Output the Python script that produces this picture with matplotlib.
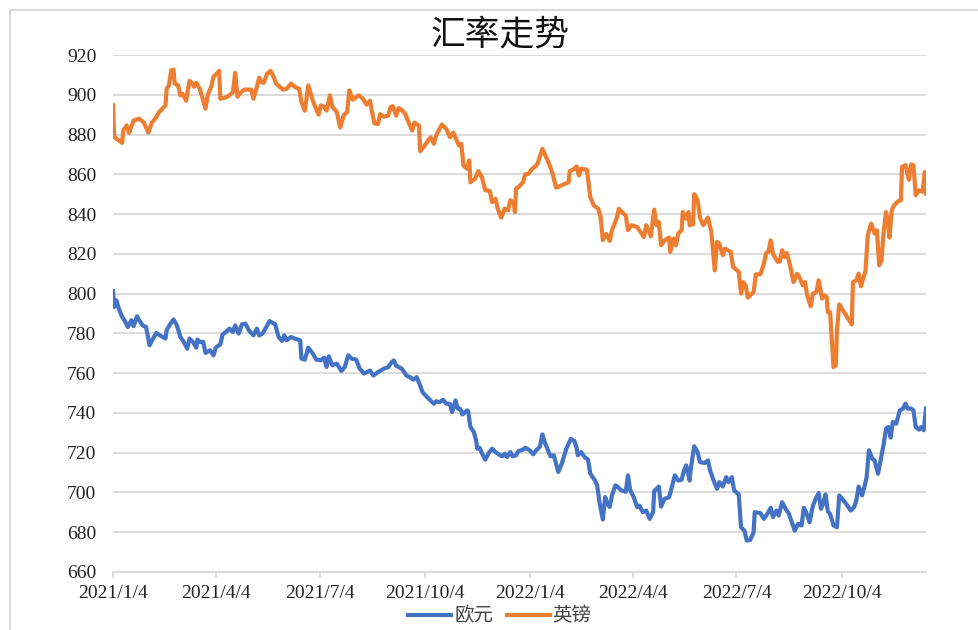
# 汇率走势图（欧元、英镑）
import matplotlib
matplotlib.use('Agg')
import matplotlib.pyplot as plt
import pandas as pd

start = pd.Timestamp('2021-01-04')

# 英镑：距 2021/1/4 的天数，及对应数值
gbp_day = [0, 1, 8, 9, 12, 14, 18, 23, 27, 31, 34, 37, 40, 46, 47, 49, 51, 53, 54, 57, 59, 61, 64, 67, 69, 71, 73, 76,
           81, 83, 86, 88, 93, 94, 98, 102, 105, 107, 109, 111, 115, 121, 123, 126, 128, 130, 132, 135, 138, 140, 143,
           146, 149, 152, 156, 159, 163, 165, 168, 171, 175, 180, 182, 185, 187, 190, 192, 196, 199, 202, 205, 207, 210,
           215, 219, 222,
           225, 227, 229, 232, 234, 237, 241, 243, 245, 248, 250, 253, 256, 259, 262, 264, 268, 269, 273, 278, 281, 283,
           288, 292, 295, 298, 301, 303, 305, 307, 310, 312, 313, 317, 320, 323, 326, 330, 332, 335, 337, 340, 343, 346,
           348, 351, 352, 353, 356, 359, 361, 364, 367, 370, 372, 376, 380, 383, 385, 388, 391, 399, 400, 404, 406, 408,
           410, 415, 418, 421, 425, 427, 429, 432, 435, 437, 441, 443, 447, 449, 451, 454, 459,
           461, 465, 467, 471, 474, 476, 478, 480, 483, 487, 488, 491, 493, 495, 498, 499, 502, 504, 505, 508, 509, 512,
           514, 517, 521, 524, 527, 529, 531, 534, 536, 541, 543, 548, 550, 552, 554, 556, 561, 563, 567, 570, 572, 574,
           576, 578, 582, 584, 586, 588, 590, 593, 596, 599, 601, 604, 606, 608, 611, 613, 616, 618, 621, 623, 625, 626,
           628, 631, 633, 634, 636, 647, 648, 651, 653, 655, 657, 659, 661, 664, 667, 669, 671, 673, 675, 677, 678, 680,
           682, 684, 688, 690, 691, 694, 697, 699, 701, 703, 706, 709, 711, 712]
gbp = [894.7, 878.8, 875.8, 882, 884.6, 880.8, 887, 888, 886, 881, 886, 888, 891, 894.7, 903, 904.7, 912.3, 912.6, 905.6,
       904.7, 899.7, 900.5, 897, 907, 906, 904, 906, 903, 893, 900, 904, 909, 912, 898, 898.5, 899.7, 901.4, 911, 899,
       900.6, 902.6, 902.6, 898, 904, 908.6, 906.4, 906, 910.6, 912, 909.8, 905.6, 904, 902.6, 903, 905.6, 904, 903,
       896.4, 892, 904.7, 897, 890, 894.7, 894, 892, 899.7, 894, 891.3, 883.5, 889.7, 891.3, 902.2, 897.5, 899.7, 898,
       895,
       897, 891, 885.6, 885.3, 890.3, 889, 889.5, 893.7, 894.3, 889.5, 893.3, 892.3, 890.3, 886, 882, 886, 884.5, 871.6,
       874.5, 878.6, 875.3, 879.5, 885, 882.8, 878.6, 881, 877, 874.5, 875.3, 864.4, 862.8, 867, 856, 857.8, 861.6,
       858.6, 852, 851.6, 846, 847.7, 842.7, 838.2, 842.7, 841.9, 847, 845.6, 841, 852.8, 854, 856, 860, 860.3, 862.8,
       864, 865.6, 872.8, 867.8, 863.6, 860.3, 853.3, 854, 856, 861.6, 862.8, 864, 859.4, 862.8, 862.3, 848.6, 844.4,
       842.7, 838.5, 826.9, 830, 826.5, 831.9, 837.7, 842.7, 840.2, 839.4, 831.9, 834.4, 833.5,
       831.8, 828.5, 834.4, 828.8, 842.2, 834.4, 836, 824.3, 826.8, 828.2, 821, 827.7, 824.3, 830.2, 831.8, 841, 837.7,
       841, 834.4, 834.9, 850, 847, 838.2, 834.4, 838.2, 831, 811.7, 826, 825.1, 819.3, 822.6, 821, 813.4, 811, 800,
       805.8, 804.2, 798, 800.8, 809.7, 809.7, 815, 820.4, 821, 826.8, 820, 816, 816.2, 821.8, 818.4, 820.4, 814.2,
       805.8, 810, 808.4, 804.2, 805.8, 799, 793.6, 800, 800.8, 806.7, 797.5, 799.1, 798.3, 790.7, 790.7, 763, 763.9,
       781.5, 794.6, 784.5, 805.8, 806.7, 810, 803.7, 807.5, 811.4, 829.3, 835.2, 830.2, 831.8, 814.2, 816.7, 831.8,
       841, 838.5, 828.2, 841.9, 844.4, 846.6, 847, 863.7, 864.6, 857.3, 865, 864.6, 849.5, 852, 851.2, 861.2, 850.3]

# 欧元
eur_day = [0, 1, 3, 5, 8, 10, 13, 16, 18, 21, 23, 26, 29, 32, 35, 38, 41, 46, 47, 50, 53, 56, 59, 62, 65, 67, 70, 73, 74,
           76, 79, 81, 85, 88, 90, 94, 96, 99, 102, 105, 107, 110, 113, 116, 119, 123, 126, 128, 131, 135, 137, 142, 145,
           148, 150, 152, 156, 159, 164, 165, 168, 171, 175, 178, 182, 185, 187, 189, 192, 196, 200, 203, 206, 209, 213,
           216, 220,
           225, 228, 232, 237, 241, 244, 246, 248, 253, 257, 260, 263, 266, 269, 271, 275, 278, 281, 283, 286, 289, 292,
           295, 297, 300, 302, 304, 306, 310, 311, 313, 316, 318, 319, 321, 324, 326, 329, 332, 335, 339, 341, 343, 345,
           348, 350, 353, 355, 359, 361, 365, 368, 370, 374, 376, 378, 381, 383, 386, 390, 393, 397, 401, 404, 406, 407,
           410, 413, 416, 418, 422, 424, 426, 429, 431, 433, 435, 437, 440, 442, 445, 449, 451, 453, 456, 459,
           461, 464, 467, 470, 473, 474, 478, 480, 483, 487, 489, 492, 495, 498, 500, 502, 505, 506, 509, 512, 514, 518,
           521, 523, 526, 529, 531, 534, 537, 539, 542, 544, 548, 550, 553, 555, 558, 561, 562, 567, 570, 573, 576, 578,
           581, 583, 586, 589, 592, 594, 597, 600, 603, 605, 607, 610, 613, 616, 618, 620, 622, 624, 626, 628, 631, 634,
           636, 641, 646, 649, 651, 653, 656, 658, 660, 662, 665, 667, 670, 672, 675, 677, 679, 681, 683, 686, 689, 692,
           694, 696, 699, 701, 703, 706, 708, 710, 712]
eur = [801.3, 793.3, 796.6, 792.5, 788.3, 786.6, 783.2, 786.6, 783.6, 788.6, 786.6, 784, 783.2, 774, 777.4, 780.2, 779,
       777.4, 781.6, 784.6, 787, 784, 778.2, 775.7, 772.3, 777.4, 775.7, 772.8, 776.9, 775.7, 775.7, 770.2, 771.5, 769,
       772.8, 774.5, 779.5, 780.7, 782.4, 780.7, 784, 779.9, 784.6, 784.9, 781.6, 779, 782.4, 779, 779.9, 784, 786.2,
       784.6, 778.2, 776.2, 779, 776.5, 778.2, 777.4, 776.5, 767.3, 766.8, 772.8, 769.8, 766.8, 766.5, 767.8, 763.1,
       768.5, 764, 764.8, 761.1, 763.1, 769, 767.3, 766.8, 762.3, 759.8,
       761.3, 758.8, 760.5, 762.2, 763, 765.5, 766.4, 763.8, 762.2, 758.8, 758, 756.7, 758, 753.8, 750.5, 748, 746.3,
       744.6, 745.9, 745.4, 746.6, 744.6, 744.6, 740.4, 746.3, 742.1, 742.1, 739.2, 741.3, 740.9, 732.9, 730.4, 726.2,
       722, 722.5, 718.7, 716.5, 719.8, 722, 720.3, 718.7, 718.2, 719.5, 717.8, 720.3, 718.2, 718.7, 720.8, 721.5,
       722.5, 721.2, 719.2, 720.8, 723.2, 729.2, 725.4, 721.2, 718.2, 718.7, 710.3, 714.5, 722, 727, 725.9, 722.5,
       718.7, 720.3, 717.8, 716.5, 709.5, 706.1, 703.6, 695.2, 686.4, 697.7, 694.4, 692.7, 698.6, 703.6, 702.8, 701.1,
       700.3, 708.6, 701.1, 697.7, 692.7,
       693.4, 690.1, 690.9, 686.7, 690.1, 700.7, 703, 692.9, 696.8, 697.6, 701.8, 708.6, 706, 706.4, 711, 713.6, 706,
       711.9, 723.2, 720.3, 715.3, 714.8, 716.1, 711, 706, 701.8, 705.2, 703, 707.7, 705.2, 707.7, 701, 699, 682.5,
       680.8, 675.8, 676.1, 680, 690.1, 689.6, 686.7, 689.2, 692.3, 687.6, 690.9, 688.4, 695.1, 691.8, 689.2, 685.9,
       680.8, 684.2, 683.4, 692.3, 690.1, 685, 693.4, 697.6, 699.7, 691.8, 694.3, 699, 690.6, 689.2, 683.4, 682.5,
       698.5, 695.1, 690.9, 692.6, 696, 703, 698.5, 702.7, 707.7, 721.2, 717, 716.1, 709.4, 715.3, 724.5, 732.1, 732.9,
       727.6, 735.5, 734.6, 741.3, 742.2, 744.7, 742.2, 742.2, 741.3, 732.9, 731.6, 732.9, 731.3, 742.2]

tick_dates = ['2021-01-04', '2021-04-04', '2021-07-04', '2021-10-04',
              '2022-01-04', '2022-04-04', '2022-07-04', '2022-10-04']
y_ticks = list(range(660, 921, 20))

gbp_dates = start + pd.to_timedelta(gbp_day, unit='D')
eur_dates = start + pd.to_timedelta(eur_day, unit='D')

fig = plt.figure(figsize=(9.79, 6.3), dpi=100)
ax = fig.add_axes([113 / 979, 1 - 572 / 630, (926 - 113) / 979, (572 - 55) / 630])

ax.plot(eur_dates, eur, color='#4472C4', lw=3, label='欧元', solid_joinstyle='round')
ax.plot(gbp_dates, gbp, color='#ED7D31', lw=3, label='英镑', solid_joinstyle='round')

ax.set_ylim(660, 920)
ax.set_xlim(start, max(eur_dates[-1], gbp_dates[-1]))
ax.set_yticks(y_ticks)
ax.grid(axis='y', color='#d9d9d9', lw=1.3)
ax.set_axisbelow(True)

td = pd.to_datetime(tick_dates)
ax.set_xticks(td)
ax.set_xticklabels([f'{d.year}/{d.month}/{d.day}' for d in td])

for s in ['top', 'right', 'left']:
    ax.spines[s].set_visible(False)
ax.spines['bottom'].set_color('#d9d9d9')
ax.spines['bottom'].set_linewidth(1.3)
ax.tick_params(axis='y', length=0, pad=12)
ax.tick_params(axis='x', length=4, width=1.3, color='#d9d9d9', pad=5)
for lab in ax.get_xticklabels() + ax.get_yticklabels():
    lab.set_fontfamily('Liberation Serif')
    lab.set_fontsize(14)
    lab.set_color('#222222')

fig.text(500 / 979, 1 - 35 / 630, '汇率走势', ha='center', va='center', fontsize=25,
         family=['Noto Sans CJK SC', 'DejaVu Sans'], color='#111111')

fig.legend(loc='center', bbox_to_anchor=(500 / 979, 1 - 616 / 630), ncol=2, frameon=False,
           prop={'family': ['Noto Sans CJK SC', 'DejaVu Sans'], 'size': 14},
           handlelength=2.2, handletextpad=0.15, columnspacing=0.7, labelcolor='#444444')

# 外框
fig.patches.append(plt.Rectangle((10 / 979, -0.2), 1.2, 1.2 - 10 / 630, transform=fig.transFigure,
                                 fill=False, ec='#d9d9d9', lw=1.5))

plt.savefig('out.png', dpi=100)
